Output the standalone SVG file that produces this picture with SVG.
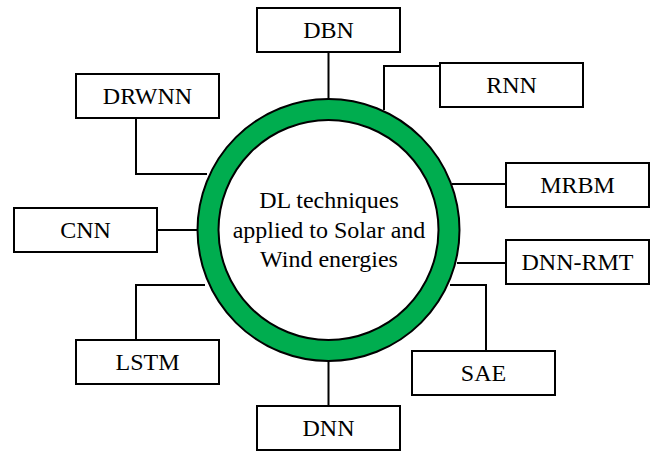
<svg xmlns="http://www.w3.org/2000/svg" width="657" height="451" viewBox="0 0 657 451">
<style>
.box{fill:#fff;stroke:#000;stroke-width:2}
.lbl{font-family:"Liberation Serif","Times New Roman",serif;font-size:24px;fill:#000;text-anchor:middle}
.ctr{font-family:"Liberation Serif","Times New Roman",serif;font-size:24px;fill:#000;text-anchor:middle}
.conn{fill:none;stroke:#000;stroke-width:2}
</style>
<rect width="657" height="451" fill="#fff"/>
<g id="connectors">
<path class="conn" d="M328.5 52V99"/>
<path class="conn" d="M440 66H384V110"/>
<path class="conn" d="M136 118V174H207"/>
<path class="conn" d="M157 230H197"/>
<path class="conn" d="M452 184H506"/>
<path class="conn" d="M457 263H506"/>
<path class="conn" d="M136 340V285H205"/>
<path class="conn" d="M328.5 361V406"/>
<path class="conn" d="M486 351V285H450"/>
</g>
<g id="center">
<circle cx="328.5" cy="230" r="131" fill="#00ad4f" stroke="#000" stroke-width="2"/>
<circle cx="328.5" cy="230" r="110" fill="#fff" stroke="#000" stroke-width="2"/>
<text class="ctr" x="329" y="208">DL techniques</text>
<text class="ctr" x="329" y="237.5">applied to Solar and</text>
<text class="ctr" x="329" y="266.5">Wind energies</text>
</g>
<g id="DBN"><rect class="box" x="257" y="8" width="143" height="44"/><text class="lbl" x="328.5" y="38">DBN</text></g>
<g id="RNN"><rect class="box" x="440" y="63" width="143" height="44"/><text class="lbl" x="511.5" y="93">RNN</text></g>
<g id="DRWNN"><rect class="box" x="76" y="74" width="143" height="44"/><text class="lbl" x="147.5" y="104">DRWNN</text></g>
<g id="CNN"><rect class="box" x="14" y="208" width="143" height="44"/><text class="lbl" x="85.5" y="238">CNN</text></g>
<g id="MRBM"><rect class="box" x="506" y="163" width="143" height="44"/><text class="lbl" x="577.5" y="193">MRBM</text></g>
<g id="DNN-RMT"><rect class="box" x="506" y="240" width="143" height="44"/><text class="lbl" x="577.5" y="270">DNN-RMT</text></g>
<g id="LSTM"><rect class="box" x="76" y="340" width="143" height="44"/><text class="lbl" x="147.5" y="370">LSTM</text></g>
<g id="DNN"><rect class="box" x="257" y="406" width="143" height="44"/><text class="lbl" x="328.5" y="436">DNN</text></g>
<g id="SAE"><rect class="box" x="412" y="351" width="143" height="44"/><text class="lbl" x="483.5" y="381">SAE</text></g>
</svg>
